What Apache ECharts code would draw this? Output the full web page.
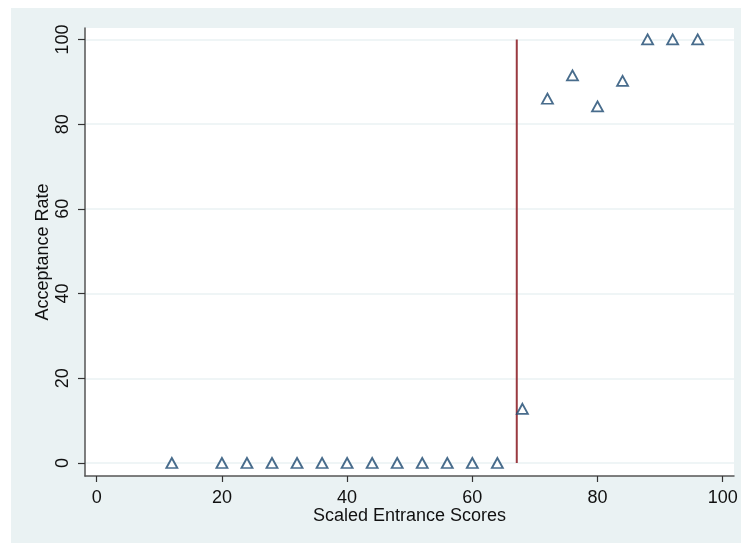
<!DOCTYPE html>
<html>
<head>
<meta charset="utf-8">
<script src="https://cdn.jsdelivr.net/npm/echarts@6/dist/echarts.min.js"></script>
<style>
html,body{margin:0;padding:0;background:#fff;}
#chart{width:741px;height:543px;}
</style>
</head>
<body>
<div id="chart"></div>
<script>
// Data
const scores = [12, 20, 24, 28, 32, 36, 40, 44, 48, 52, 56, 60, 64, 68, 72, 76, 80, 84, 88, 92, 96];
const acceptance = [0, 0, 0, 0, 0, 0, 0, 0, 0, 0, 0, 0, 0, 12.8, 86, 91.5, 84.2, 90.2, 100, 100, 100];
const cutoffScore = 67.1;
const cutoffRange = [0, 100];
const xTicks = [0, 20, 40, 60, 80, 100];
const yTicks = [0, 20, 40, 60, 80, 100];

const font = 'Liberation Sans, Arial, sans-serif';
const chart = echarts.init(document.getElementById('chart'), null, {renderer: 'canvas'});

chart.setOption({
  animation: false,
  backgroundColor: '#ffffff',
  graphic: [{
    type: 'rect',
    z: -10,
    shape: {x: 11, y: 8, width: 730, height: 535},
    style: {fill: '#eaf2f3'}
  }],
  grid: {
    left: 85, top: 28, right: 7, bottom: 67,
    show: true, backgroundColor: '#ffffff', borderWidth: 0
  },
  xAxis: {
    type: 'value',
    min: -1.87, max: 101.8,
    name: 'Scaled Entrance Scores',
    nameLocation: 'middle',
    nameGap: 31,
    nameMoveOverlap: false,
    nameTextStyle: {fontFamily: font, fontSize: 18, color: '#111'},
    axisLine: {show: true, onZero: false, lineStyle: {color: '#555', width: 1.5}},
    axisTick: {show: true, length: 6, customValues: xTicks, lineStyle: {color: '#333', width: 1.2}},
    axisLabel: {customValues: xTicks, margin: 13, fontFamily: font, fontSize: 18, color: '#111'},
    splitLine: {show: false}
  },
  yAxis: {
    type: 'value',
    min: -3.07, max: 102.7,
    name: 'Acceptance Rate',
    nameLocation: 'middle',
    nameGap: 33,
    nameMoveOverlap: false,
    nameRotate: 90,
    nameTextStyle: {fontFamily: font, fontSize: 18, color: '#111'},
    axisLine: {show: true, onZero: false, lineStyle: {color: '#555', width: 1.5}},
    axisTick: {show: true, length: 7, customValues: yTicks, lineStyle: {color: '#333', width: 1.2}},
    axisLabel: {customValues: yTicks, rotate: 90, margin: 13, fontFamily: font, fontSize: 18, color: '#111'},
    splitLine: {show: false}
  },
  series: [
    {
      type: 'line',
      data: [],
      silent: true,
      z: 0,
      markLine: {
        silent: true,
        z: 0,
        symbol: 'none',
        label: {show: false},
        lineStyle: {color: '#eaf2f3', width: 1.5, type: 'solid'},
        data: yTicks.map(v => ({yAxis: v}))
      }
    },
    {
      type: 'line',
      data: cutoffRange.map(v => [cutoffScore, v]),
      symbol: 'none',
      lineStyle: {color: '#9a3a40', width: 2},
      z: 8
    },
    {
      type: 'scatter',
      data: scores.map((s, i) => [s, acceptance[i]]),
      symbol: 'triangle',
      symbolSize: [11, 10],
      itemStyle: {color: '#ffffff', borderColor: '#1a476f', borderWidth: 1.8},
      z: 10
    }
  ]
});
</script>
</body>
</html>
